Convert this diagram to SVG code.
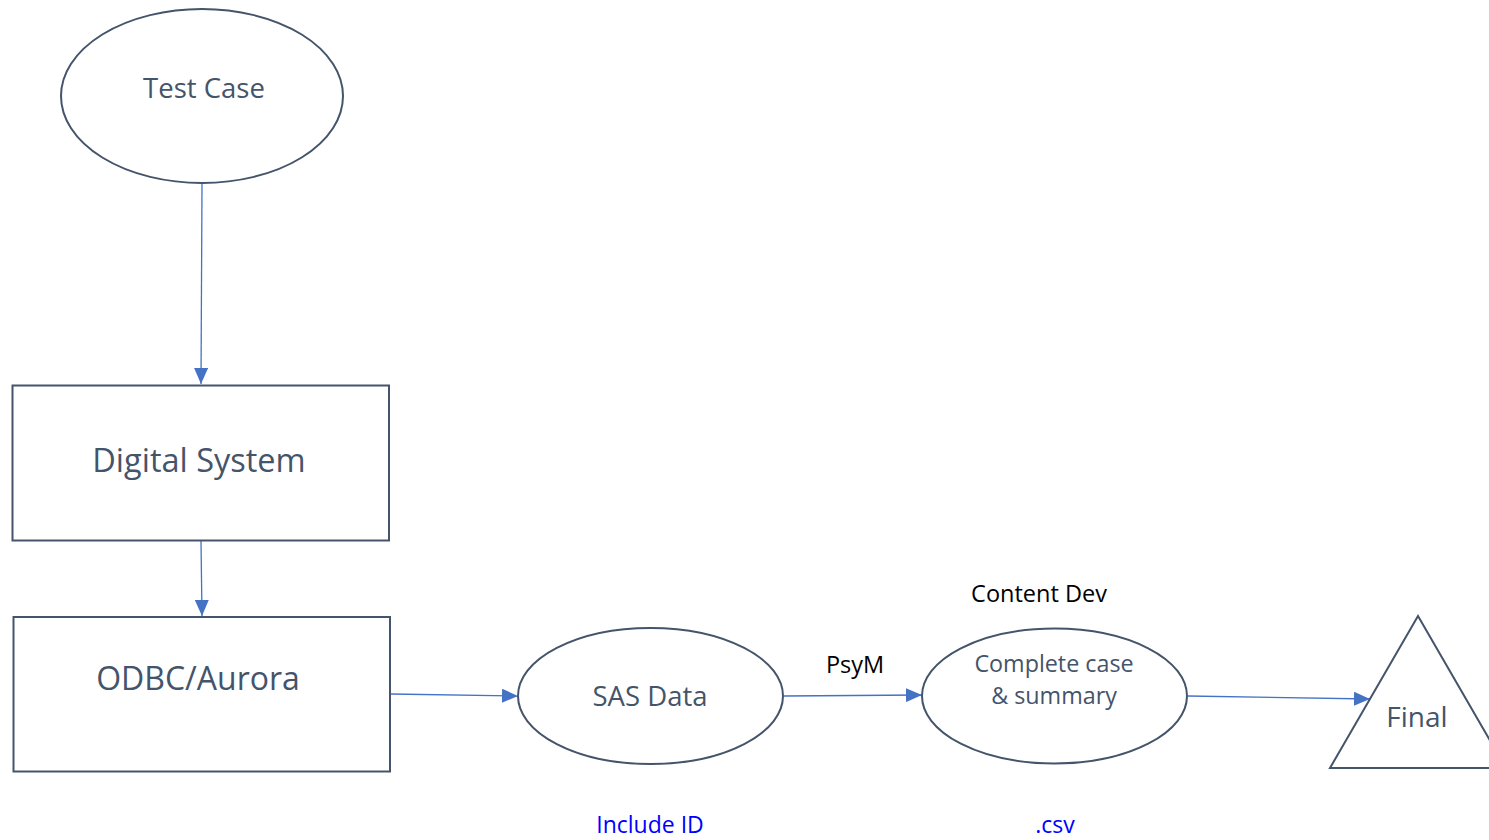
<svg xmlns="http://www.w3.org/2000/svg" width="1489" height="840" viewBox="0 0 1489 840">
<defs>
<marker id="ah" viewBox="0 0 16 14" refX="16" refY="7" markerWidth="16" markerHeight="14" markerUnits="userSpaceOnUse" orient="auto">
<path d="M0,0 L16,7 L0,14 z" fill="#4472c4"/>
</marker>
<style>
.shape{fill:#ffffff;stroke:#44546a;stroke-width:2}
.lbl{font-family:"Open Sans","Noto Sans",sans-serif;fill:#44546a;text-anchor:middle}
.note{font-family:"Open Sans","Noto Sans",sans-serif;fill:#000000;text-anchor:middle;font-size:23.5px}
.blue{font-family:"Open Sans","Noto Sans",sans-serif;fill:#0000ff;text-anchor:middle;font-size:23px}
.conn{stroke:#4472c4;stroke-width:1.3;fill:none;marker-end:url(#ah)}
</style>
</defs>
<rect width="1489" height="840" fill="#ffffff"/>
<g id="connectors">
<line class="conn" x1="202" y1="184" x2="201" y2="384"/>
<line class="conn" x1="201" y1="541" x2="202" y2="616"/>
<line class="conn" x1="391" y1="694" x2="518" y2="696"/>
<line class="conn" x1="784" y1="696" x2="922" y2="695"/>
<line class="conn" x1="1188" y1="696" x2="1370" y2="699"/>
</g>
<g id="test-case">
<ellipse class="shape" cx="202" cy="96" rx="141" ry="87"/>
<text class="lbl" x="204" y="98" font-size="27.5">Test Case</text>
</g>
<g id="digital-system">
<rect class="shape" x="12.5" y="385.5" width="376.5" height="155"/>
<text class="lbl" x="199" y="472" font-size="32.5">Digital System</text>
</g>
<g id="odbc-aurora">
<rect class="shape" x="13.5" y="617" width="376.5" height="154.5"/>
<text class="lbl" x="198" y="690" font-size="32">ODBC/Aurora</text>
</g>
<g id="sas-data">
<ellipse class="shape" cx="650.5" cy="696" rx="132.5" ry="68"/>
<text class="lbl" x="650" y="706" font-size="27.5">SAS Data</text>
</g>
<g id="complete-case">
<ellipse class="shape" cx="1054.5" cy="696" rx="132.5" ry="67.5"/>
<text class="lbl" x="1054" y="672" font-size="23.3">Complete case</text>
<text class="lbl" x="1054" y="704" font-size="23.3">&amp; summary</text>
</g>
<g id="final">
<polygon class="shape" points="1418,616 1330,768 1506,768"/>
<text class="lbl" x="1417" y="727" font-size="28">Final</text>
</g>
<g id="labels">
<text class="note" x="1039" y="602">Content Dev</text>
<text class="note" x="855" y="673">PsyM</text>
<text class="blue" x="650" y="833">Include ID</text>
<text class="blue" x="1055" y="833">.csv</text>
</g>
</svg>
